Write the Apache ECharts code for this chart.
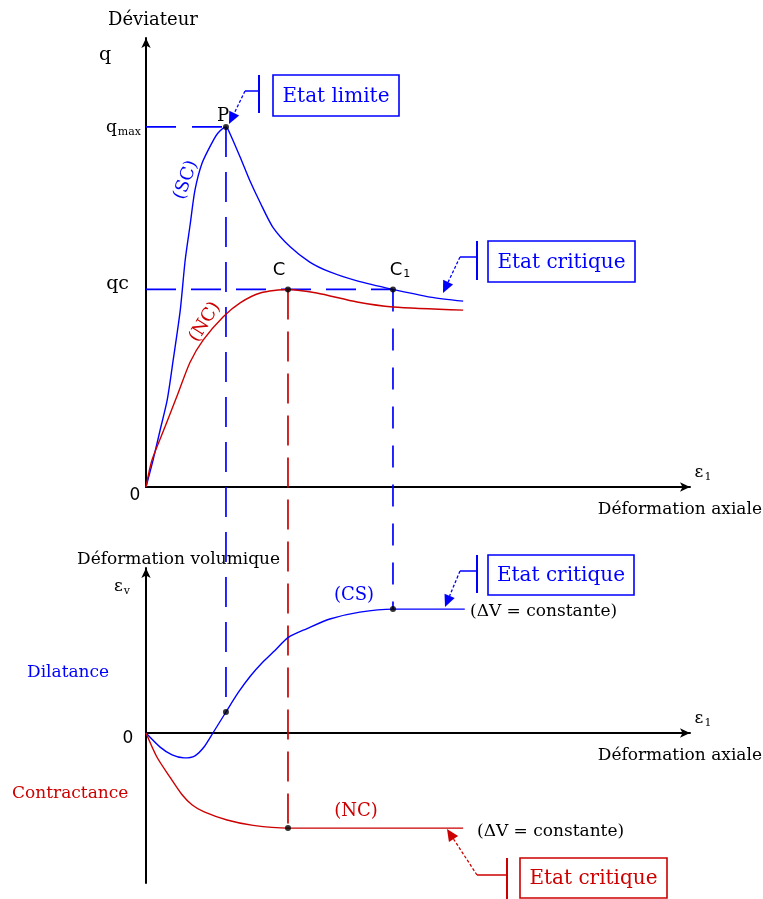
<!DOCTYPE html>
<html>
<head>
<meta charset="utf-8">
<script src="https://cdn.jsdelivr.net/npm/echarts@6/dist/echarts.min.js"></script>
<style>
  html, body { margin: 0; padding: 0; background: #fff; }
  #chart { width: 763px; height: 899px; }
</style>
</head>
<body>
<div id="chart"></div>
<script>
const BLUE = '#0000ff';
const RED = '#cc0000';
const INK = '#000000';
const SERIF = 'DejaVu Serif';
const SANS = 'DejaVu Sans';

// Deviator q against axial strain: dense (SC) and loose (NC) samples
const scStrain = [0, 0.13, 0.26, 0.39, 0.50, 0.63, 0.72, 0.81, 0.90, 1.03, 1.21, 1.32, 1.47, 1.54, 1.73, 1.91, 2.10, 2.33, 2.65, 3.01, 3.38, 3.88, 4.54, 5.22, 5.83];
const scQ      = [0, 0.60, 1.27, 1.94, 2.83, 3.94, 5.05, 5.83, 6.61, 7.21, 7.66, 7.88, 8.02, 7.88, 7.35, 6.82, 6.33, 5.79, 5.35, 5.01, 4.79, 4.59, 4.40, 4.23, 4.14];
const ncStrain = [0, 0.11, 0.35, 0.59, 0.81, 1.05, 1.42, 1.73, 2.10, 2.61, 3.14, 3.88, 4.54, 5.83];
const ncQ      = [0, 0.60, 1.34, 2.09, 2.78, 3.27, 3.79, 4.10, 4.32, 4.40, 4.32, 4.12, 4.01, 3.94];

// Volumetric strain against axial strain
const csStrain = [0, 0.26, 0.48, 0.70, 0.90, 1.07, 1.23, 1.47, 1.70, 1.92, 2.14, 2.37, 2.61, 2.96, 3.38, 3.93, 4.54, 5.86];
const csVol    = [0, -0.47, -0.73, -0.83, -0.76, -0.46, 0, 0.70, 1.36, 1.90, 2.35, 2.75, 3.18, 3.48, 3.80, 4.03, 4.13, 4.13];
const ncvStrain = [0, 0.20, 0.44, 0.66, 0.85, 1.07, 1.49, 1.97, 2.61, 5.83];
const ncvVol    = [0, -0.80, -1.47, -2.05, -2.40, -2.63, -2.90, -3.08, -3.17, -3.17];

// Characteristic states
const P_STRAIN = 1.47, Q_MAX = 8.02;     // peak P
const C_STRAIN = 2.61, Q_C = 4.40;       // critical state C (loose)
const C1_STRAIN = 4.54;                  // critical state C1 (dense)
const EV_P = 0.70, EV_C = -3.17, EV_C1 = 4.13;

const zip = (xs, ys) => xs.map((x, i) => [x, ys[i]]);

const chart = echarts.init(document.getElementById('chart'), null, { renderer: 'canvas' });

function axisX(gi) {
  return {
    gridIndex: gi, type: 'value', min: 0, max: 10,
    axisLine: { show: true, onZero: true, symbol: ['none', 'arrow'], symbolSize: [7, 10],
      lineStyle: { color: INK, width: 2 } },
    axisTick: { show: false }, axisLabel: { show: false }, splitLine: { show: false }
  };
}
function axisY(gi, min, max) {
  return {
    gridIndex: gi, type: 'value', min: min, max: max,
    axisLine: { show: true, onZero: false, symbol: ['none', 'arrow'], symbolSize: [7, 10],
      lineStyle: { color: INK, width: 2 } },
    axisTick: { show: false }, axisLabel: { show: false }, splitLine: { show: false }
  };
}
function curve(gi, data, color) {
  return {
    type: 'line', xAxisIndex: gi, yAxisIndex: gi, data: data, smooth: 0.25,
    symbol: 'none', lineStyle: { color: color, width: 1.4 }, z: 3, silent: true
  };
}
function guide(gi, data, color, dash, id) {
  return {
    id: id, type: 'line', xAxisIndex: gi, yAxisIndex: gi, data: data, symbol: 'none',
    clip: false, lineStyle: { color: color, width: 1.7, type: dash }, z: 2, silent: true
  };
}
function dots(gi, data) {
  return {
    type: 'scatter', xAxisIndex: gi, yAxisIndex: gi, data: data, symbolSize: 6,
    itemStyle: { color: INK }, z: 5, silent: true
  };
}

// Text helpers
function txt(x, y, text, opt) {
  opt = opt || {};
  return {
    type: 'text', x: x, y: y, rotation: opt.rot || 0, z: 10, silent: true,
    style: {
      text: text, fill: opt.color || INK, fontSize: opt.size || 17, fontFamily: opt.family || SERIF,
      align: opt.align || 'center', verticalAlign: 'middle', rich: opt.rich
    }
  };
}
const subRich = (size, family) => ({
  m: { fontSize: size, fontFamily: family || SERIF, fill: INK },
  s: { fontSize: Math.round(size * 0.62), fontFamily: family || SERIF, fill: INK, padding: [8, 0, 0, 1] }
});

// Callout: boxed caption, bar, elbow and dotted arrow to a curve
function callout(c) {
  const els = [];
  els.push({ type: 'rect', z: 10, silent: true,
    shape: { x: c.box[0], y: c.box[1], width: c.box[2], height: c.box[3] },
    style: { fill: '#fff', stroke: c.color, lineWidth: 1.6 } });
  els.push(txt(c.box[0] + c.box[2] / 2, c.box[1] + c.box[3] / 2 + 1, c.text, { color: c.color, size: 20 }));
  els.push({ type: 'line', z: 10, silent: true,
    shape: { x1: c.bar[0], y1: c.bar[1], x2: c.bar[0], y2: c.bar[2] },
    style: { stroke: c.color, lineWidth: 2 } });
  els.push({ type: 'line', z: 10, silent: true,
    shape: { x1: c.elbow[0], y1: c.elbow[1], x2: c.bar[0], y2: c.elbow[1] },
    style: { stroke: c.color, lineWidth: 1.5 } });
  const dx = c.tip[0] - c.elbow[0], dy = c.tip[1] - c.elbow[1];
  const L = Math.hypot(dx, dy), ux = dx / L, uy = dy / L;
  const bx = c.tip[0] - ux * 12, by = c.tip[1] - uy * 12;
  els.push({ type: 'line', z: 10, silent: true,
    shape: { x1: c.elbow[0], y1: c.elbow[1], x2: bx, y2: by },
    style: { stroke: c.color, lineWidth: 1.3, lineDash: [3, 2] } });
  els.push({ type: 'polygon', z: 10, silent: true,
    shape: { points: [c.tip, [bx - uy * 5.5, by + ux * 5.5], [bx + uy * 5.5, by - ux * 5.5]] },
    style: { fill: c.color } });
  return els;
}

const graphics = [
  // upper diagram
  txt(108, 20, 'Déviateur', { align: 'left', size: 18 }),
  txt(105, 55, 'q', { size: 19 }),
  txt(141, 128, '{m|q}{s|max}', { align: 'right', rich: subRich(17) }),
  txt(129, 284, 'qc', { align: 'right', size: 19 }),
  txt(135, 496, '0', { size: 17, family: SANS }),
  txt(223, 116, 'P', { size: 18 }),
  txt(279, 270, 'C', { size: 18, family: SANS }),
  txt(400, 270, '{m|C}{s|1}', { rich: subRich(18, SANS) }),
  txt(186, 180, '(SC)', { color: BLUE, size: 18, rot: 70 * Math.PI / 180 }),
  txt(205, 322, '(NC)', { color: RED, size: 18, rot: 58 * Math.PI / 180 }),
  txt(703, 473, '{m|ε}{s|1}', { rich: subRich(17) }),
  txt(762, 510, 'Déformation axiale', { align: 'right', size: 17 }),
  // lower diagram
  txt(77, 560, 'Déformation volumique', { align: 'left', size: 17 }),
  txt(122, 587, '{m|ε}{s|v}', { rich: subRich(17) }),
  txt(27, 673, 'Dilatance', { align: 'left', color: BLUE, size: 17 }),
  txt(128, 739, '0', { size: 17, family: SANS }),
  txt(12, 794, 'Contractance', { align: 'left', color: RED, size: 17 }),
  txt(703, 719, '{m|ε}{s|1}', { rich: subRich(17) }),
  txt(762, 756, 'Déformation axiale', { align: 'right', size: 17 }),
  txt(354, 595, '(CS)', { color: BLUE, size: 18 }),
  txt(470, 612, '(ΔV = constante)', { align: 'left', size: 17 }),
  txt(356, 811, '(NC)', { color: RED, size: 18 }),
  txt(477, 832, '(ΔV = constante)', { align: 'left', size: 17 })
].concat(
  callout({ text: 'Etat limite', color: BLUE, box: [273, 75, 126, 41], bar: [259, 75, 113], elbow: [245, 91], tip: [229, 124] }),
  callout({ text: 'Etat critique', color: BLUE, box: [488, 241, 147, 41], bar: [477, 241, 280], elbow: [460, 257], tip: [443, 293] }),
  callout({ text: 'Etat critique', color: BLUE, box: [488, 555, 146, 40], bar: [477, 555, 593], elbow: [460, 571], tip: [445, 607] }),
  callout({ text: 'Etat critique', color: RED, box: [520, 858, 147, 40], bar: [507, 858, 899], elbow: [477, 875], tip: [447, 829] })
);

const option = {
  animation: false,
  backgroundColor: '#ffffff',
  grid: [
    { left: 146, top: 38, width: 544, height: 449 },
    { left: 146, top: 568, width: 544, height: 315 }
  ],
  xAxis: [axisX(0), axisX(1)],
  yAxis: [axisY(0, 0, 10), axisY(1, -5, 5.5)],
  series: [
    guide(0, [[0, Q_MAX], [P_STRAIN, Q_MAX]], BLUE, [30, 16], 'gQmax'),
    guide(0, [[0, Q_C], [C1_STRAIN, Q_C]], BLUE, [30, 15], 'gQc'),
    guide(1, [], BLUE, [30, 15], 'vP'),
    guide(1, [], RED, [30, 12], 'vC'),
    guide(1, [], BLUE, [22, 17], 'vC1'),
    curve(0, zip(scStrain, scQ), BLUE),
    curve(0, zip(ncStrain, ncQ), RED),
    curve(1, zip(csStrain, csVol), BLUE),
    curve(1, zip(ncvStrain, ncvVol), RED),
    dots(0, [[P_STRAIN, Q_MAX], [C_STRAIN, Q_C], [C1_STRAIN, Q_C]]),
    dots(1, [[P_STRAIN, EV_P], [C_STRAIN, EV_C], [C1_STRAIN, EV_C1]])
  ],
  graphic: graphics
};

chart.setOption(option);

// Vertical guides linking each state of the upper diagram to the lower one,
// expressed in the lower diagram's units through both grids' scales.
function upperToLower(pt) {
  const px = chart.convertToPixel({ gridIndex: 0 }, pt);
  return chart.convertFromPixel({ gridIndex: 1 }, px)[1];
}
chart.setOption({
  series: [
    { id: 'vP', data: [[P_STRAIN, upperToLower([P_STRAIN, Q_MAX])], [P_STRAIN, EV_P]] },
    { id: 'vC', data: [[C_STRAIN, upperToLower([C_STRAIN, Q_C])], [C_STRAIN, EV_C]] },
    { id: 'vC1', data: [[C1_STRAIN, upperToLower([C1_STRAIN, Q_C])], [C1_STRAIN, EV_C1]] }
  ]
});
</script>
</body>
</html>
